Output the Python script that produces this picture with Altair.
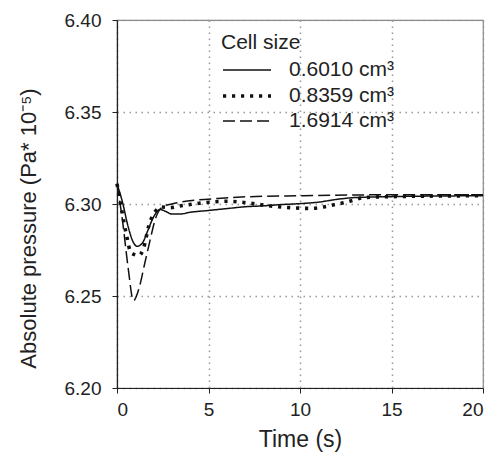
import altair as alt
import pandas as pd

# ---- data ----
series_names = ["0.6010 cm³", "0.8359 cm³", "1.6914 cm³"]

t_a = [0, 0.3, 0.6, 0.9, 1.1, 1.4, 1.7, 2.0, 2.35, 2.7, 3.0, 3.4, 4.0, 5.0, 6.0, 7.0,
       8.0, 9.0, 10.0, 11.0, 12.0, 13.0, 15.0, 20.0]
p_a = [6.311, 6.301, 6.288, 6.279, 6.277, 6.279, 6.286, 6.293, 6.297, 6.2958, 6.2945,
       6.2945, 6.2955, 6.2965, 6.2975, 6.2985, 6.299, 6.2997, 6.3002, 6.301, 6.3025,
       6.3035, 6.304, 6.3045]

t_b = [0, 0.25, 0.5, 0.77, 1.2, 1.45, 1.75, 2.1, 2.4, 2.9, 3.5, 4.5, 6.0, 7.3, 8.5,
       9.5, 10.5, 11.3, 11.8, 12.4, 12.9, 13.5, 15.0, 20.0]
p_b = [6.311, 6.297, 6.284, 6.2735, 6.272, 6.276, 6.2886, 6.296, 6.2984, 6.298, 6.299,
       6.3004, 6.3015, 6.3004, 6.2988, 6.298, 6.2976, 6.2984, 6.2995, 6.3007, 6.302,
       6.3035, 6.304, 6.3045]

t_c = [0, 0.3, 0.6, 0.9, 1.2, 1.5, 1.8, 2.1, 2.5, 3.0, 4.4, 5.5, 7.3, 10.0, 15.0, 20.0]
p_c = [6.311, 6.291, 6.266, 6.2475, 6.254, 6.267, 6.280, 6.292, 6.2985, 6.300, 6.3022,
       6.303, 6.304, 6.3045, 6.305, 6.305]

y_ticks = [6.20, 6.25, 6.30, 6.35, 6.40]
x_ticks = [0, 5, 10, 15, 20]

rows = []
for name, ts, ps in zip(series_names, [t_a, t_b, t_c], [p_a, p_b, p_c]):
    for t, p in zip(ts, ps):
        rows.append({"Time": t, "Pressure": p, "Cell size": name})
df = pd.DataFrame(rows)

FONT = "Liberation Sans"

leg = alt.Legend(
    title="Cell size",
    orient="none",
    legendX=104,
    legendY=12,
    symbolType="M-1,0H3",
    symbolSize=576,
    symbolStrokeColor="#111",
    labelFontSize=21,
    labelFont=FONT,
    labelColor="#222",
    titleFontSize=21,
    titleFont=FONT,
    titleFontWeight="normal",
    titleColor="#222",
    titlePadding=4,
    labelOffset=40,
    rowPadding=2,
)

dashes = [[1, 0], [3.2, 5.8], [12, 5]]
widths = [1.5, 3.6, 1.5]

lines = alt.Chart(df).mark_line(color="#111", strokeCap="butt", interpolate="monotone").encode(
    x=alt.X("Time:Q", scale=alt.Scale(domain=[0, 20], nice=False),
            axis=alt.Axis(title="Time (s)", values=x_ticks, format="d")),
    y=alt.Y("Pressure:Q", scale=alt.Scale(domain=[6.20, 6.40], nice=False, zero=False),
            axis=alt.Axis(title="Absolute pressure (Pa* 10⁻⁵)", values=y_ticks,
                          format=".2f", titleY=208)),
    strokeDash=alt.StrokeDash("Cell size:N", sort=series_names,
                              scale=alt.Scale(domain=series_names, range=dashes),
                              legend=leg),
    strokeWidth=alt.StrokeWidth("Cell size:N", sort=series_names,
                                scale=alt.Scale(type="ordinal", domain=series_names,
                                                range=widths),
                                legend=leg),
    order=alt.Order("Time:Q"),
)

chart = lines.properties(
    width=366,
    height=368,
    autosize=alt.AutoSizeParams(type="none"),
    padding={"left": 109, "top": 12, "right": 11, "bottom": 66},
    background="white",
).configure_view(
    stroke="#888", strokeWidth=1.2
).configure_axis(
    labelFont=FONT, titleFont=FONT, labelFontSize=19, titleFontSize=22,
    labelColor="#222", titleColor="#222", titleFontWeight="normal",
    domainColor="#222", domainWidth=1.2, tickColor="#222", tickSize=5, tickWidth=1,
    gridColor="#999", gridDash=[1.5, 4.5], gridWidth=1.5,
).configure_axisX(
    labelPadding=7, titlePadding=9, titleFontSize=23,
).configure_axisY(
    labelPadding=11, titlePadding=24, titleFontSize=22,
)

chart.save("out.html", embed_options={"renderer": "svg", "actions": False})
